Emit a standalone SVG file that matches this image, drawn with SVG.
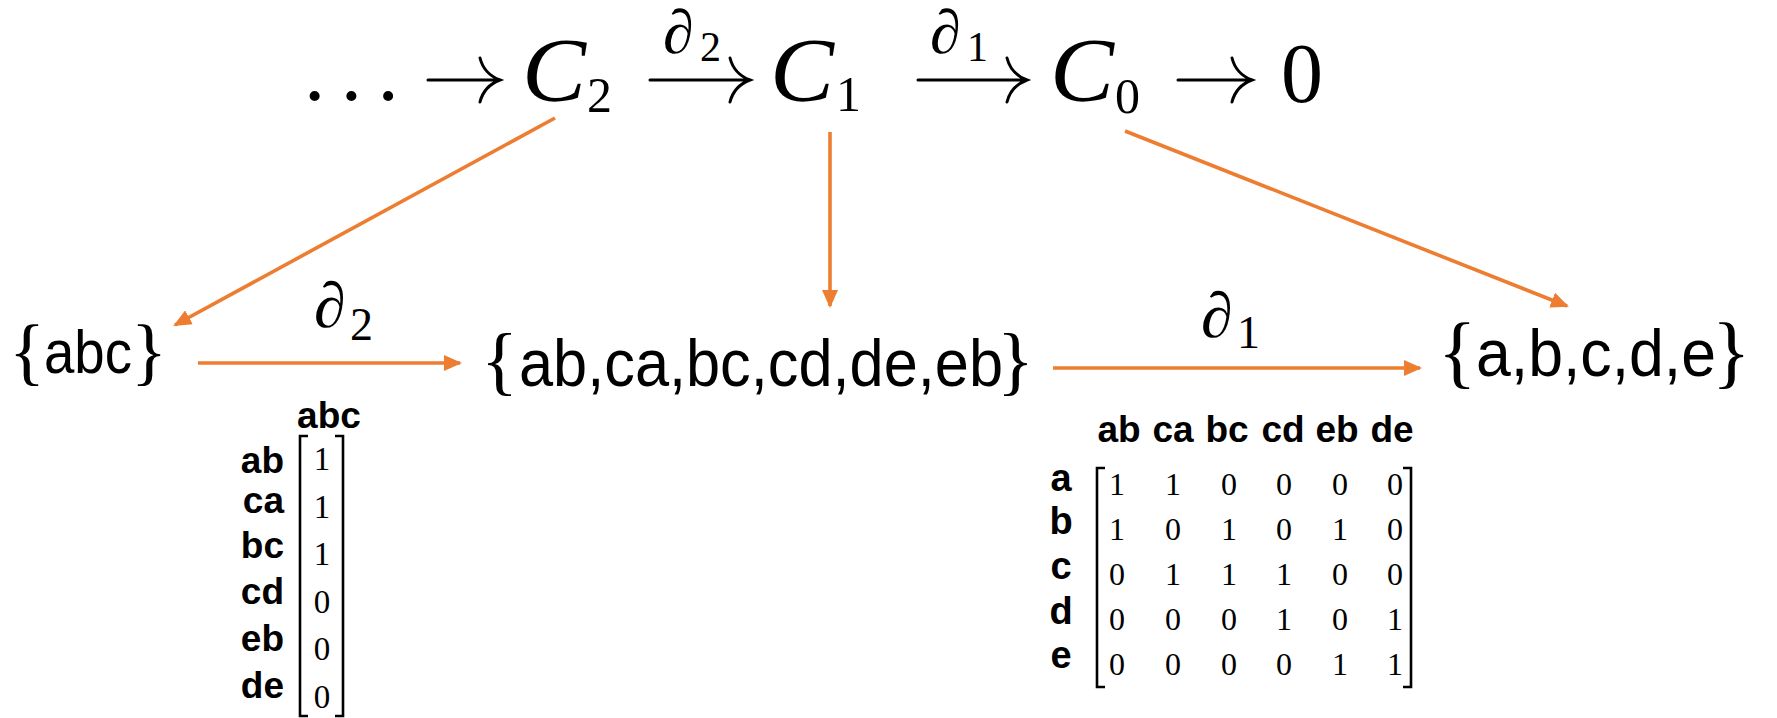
<svg xmlns="http://www.w3.org/2000/svg" width="1777" height="718" viewBox="0 0 1777 718">
<defs>
<style>
.m{font-family:"Liberation Serif",serif;fill:#000}
.mi{font-family:"Liberation Serif",serif;font-style:italic;fill:#000}
.s{font-family:"Liberation Sans",sans-serif;fill:#000}
.b{font-family:"Liberation Sans",sans-serif;font-weight:bold;fill:#000}
.ar{fill:none;stroke:#000;stroke-width:3;stroke-linecap:round}
.br{fill:none;stroke:#000;stroke-width:2.6}
.c{fill:none;stroke:#ED7D31;stroke-width:3.6}
</style>
<marker id="ah" markerUnits="userSpaceOnUse" markerWidth="18" markerHeight="16" refX="16" refY="8" orient="auto">
<path d="M0,0 L18,8 L0,16 z" fill="#ED7D31"/>
</marker>
</defs>
<rect width="1777" height="718" fill="#fff"/>

<g id="sequence">
<text class="m" x="304" y="100" font-size="85" letter-spacing="15.5">...</text>
<path class="ar" d="M428,80 H499 M480,58 Q484,74 500,80 Q484,86 480,102"/>
<g id="C2"><text class="mi" x="522" y="101" font-size="90" textLength="64" lengthAdjust="spacingAndGlyphs">C</text><text class="m" x="587" y="112" font-size="50">2</text></g>
<g id="d2top"><text class="mi" x="663" y="53" font-size="62">∂</text><text class="m" x="700" y="61" font-size="42">2</text></g>
<path class="ar" d="M650,80 H749 M730,58 Q734,74 750,80 Q734,86 730,102"/>
<g id="C1"><text class="mi" x="770" y="101" font-size="90" textLength="64" lengthAdjust="spacingAndGlyphs">C</text><text class="m" x="836" y="111" font-size="50">1</text></g>
<g id="d1top"><text class="mi" x="930" y="53" font-size="62">∂</text><text class="m" x="967" y="61" font-size="42">1</text></g>
<path class="ar" d="M918,80 H1026 M1007,58 Q1011,74 1027,80 Q1011,86 1007,102"/>
<g id="C0"><text class="mi" x="1050" y="101" font-size="90" textLength="64" lengthAdjust="spacingAndGlyphs">C</text><text class="m" x="1115" y="113" font-size="50">0</text></g>
<path class="ar" d="M1178,80 H1251 M1232,58 Q1236,74 1252,80 Q1236,86 1232,102"/>
<text class="m" x="1281" y="102" font-size="84">0</text>
</g>

<g id="set2">
<text class="m" x="9" y="376" font-size="75">{</text>
<text class="s" x="44" y="373" font-size="61" textLength="88" lengthAdjust="spacingAndGlyphs">abc</text>
<text class="m" x="131" y="376" font-size="75">}</text>
</g>

<g id="set1">
<text class="m" x="481" y="386" font-size="77">{</text>
<text class="s" x="519" y="386" font-size="67" textLength="484" lengthAdjust="spacingAndGlyphs">ab,ca,bc,cd,de,eb</text>
<text class="m" x="997" y="386" font-size="77">}</text>
</g>

<g id="set0">
<text class="m" x="1438" y="378" font-size="80">{</text>
<text class="s" x="1476" y="376" font-size="66" textLength="240" lengthAdjust="spacingAndGlyphs">a,b,c,d,e</text>
<text class="m" x="1712" y="378" font-size="80">}</text>
</g>

<g id="connectors">
<line class="c" x1="555" y1="118" x2="175" y2="325" marker-end="url(#ah)"/>
<line class="c" x1="830" y1="132" x2="830" y2="306" marker-end="url(#ah)"/>
<line class="c" x1="1125" y1="131" x2="1567" y2="306" marker-end="url(#ah)"/>
<line class="c" x1="198" y1="363" x2="460" y2="363" marker-end="url(#ah)"/>
<line class="c" x1="1053" y1="368" x2="1420" y2="368" marker-end="url(#ah)"/>
</g>

<g id="d2label"><text class="mi" x="314" y="327" font-size="64">∂</text><text class="m" x="350" y="340" font-size="46">2</text></g>
<g id="d1label"><text class="mi" x="1201" y="337" font-size="64">∂</text><text class="m" x="1237" y="348" font-size="46">1</text></g>

<g id="matrix2">
<text class="b" x="329" y="428" font-size="37" text-anchor="middle">abc</text>
<g class="b" font-size="37" text-anchor="end">
<text x="284" y="473">ab</text>
<text x="284" y="513">ca</text>
<text x="284" y="558">bc</text>
<text x="284" y="604">cd</text>
<text x="284" y="651">eb</text>
<text x="284" y="698">de</text>
</g>
<path class="br" d="M308,436 H300 V716 H308"/>
<path class="br" d="M335,436 H343 V716 H335"/>
<g class="m" font-size="33" text-anchor="middle">
<text x="322" y="470">1</text>
<text x="322" y="518">1</text>
<text x="322" y="565">1</text>
<text x="322" y="613">0</text>
<text x="322" y="660">0</text>
<text x="322" y="708">0</text>
</g>
</g>

<g id="matrix1">
<g class="b" font-size="37" text-anchor="middle">
<text x="1119" y="442">ab</text>
<text x="1173" y="442">ca</text>
<text x="1227" y="442">bc</text>
<text x="1283" y="442">cd</text>
<text x="1337" y="442">eb</text>
<text x="1392" y="442">de</text>
</g>
<g class="b" font-size="38" text-anchor="middle">
<text x="1061" y="491">a</text>
<text x="1061" y="534">b</text>
<text x="1061" y="579">c</text>
<text x="1061" y="624">d</text>
<text x="1061" y="668">e</text>
</g>
<path class="br" d="M1105,468 H1097 V687 H1105"/>
<path class="br" d="M1403,468 H1411 V687 H1403"/>
<g class="m" font-size="32" text-anchor="middle">
<text y="495"><tspan x="1117">1</tspan><tspan x="1173">1</tspan><tspan x="1229">0</tspan><tspan x="1284">0</tspan><tspan x="1340">0</tspan><tspan x="1395">0</tspan></text>
<text y="540"><tspan x="1117">1</tspan><tspan x="1173">0</tspan><tspan x="1229">1</tspan><tspan x="1284">0</tspan><tspan x="1340">1</tspan><tspan x="1395">0</tspan></text>
<text y="585"><tspan x="1117">0</tspan><tspan x="1173">1</tspan><tspan x="1229">1</tspan><tspan x="1284">1</tspan><tspan x="1340">0</tspan><tspan x="1395">0</tspan></text>
<text y="630"><tspan x="1117">0</tspan><tspan x="1173">0</tspan><tspan x="1229">0</tspan><tspan x="1284">1</tspan><tspan x="1340">0</tspan><tspan x="1395">1</tspan></text>
<text y="675"><tspan x="1117">0</tspan><tspan x="1173">0</tspan><tspan x="1229">0</tspan><tspan x="1284">0</tspan><tspan x="1340">1</tspan><tspan x="1395">1</tspan></text>
</g>
</g>
</svg>
